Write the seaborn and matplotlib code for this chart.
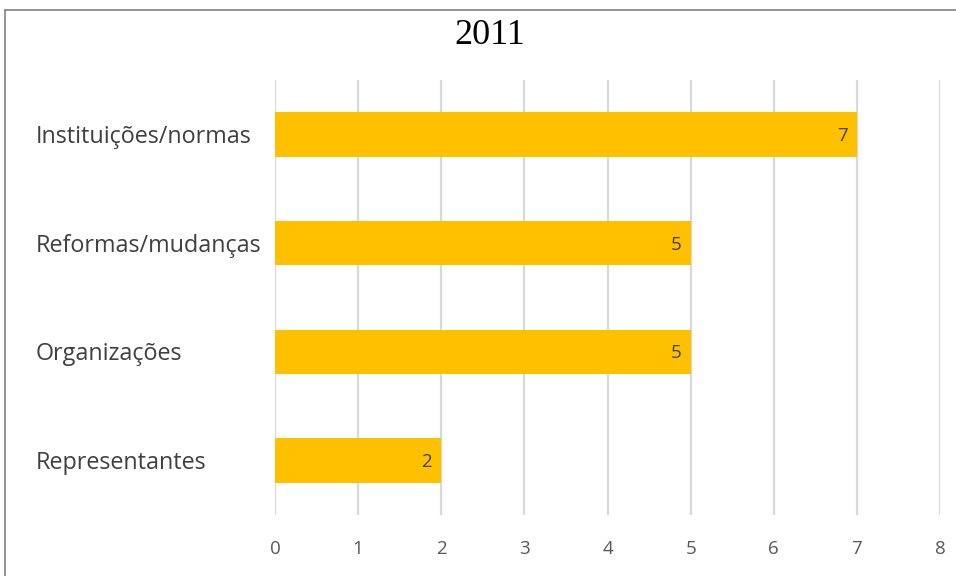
import matplotlib
matplotlib.use("Agg")
import matplotlib.pyplot as plt
import matplotlib.transforms as mtransforms
import seaborn as sns
import pandas as pd
from matplotlib.lines import Line2D

categories = ["Instituições/normas", "Reformas/mudanças", "Organizações", "Representantes"]
values = [7, 5, 5, 2]
xticks = [0, 1, 2, 3, 4, 5, 6, 7, 8]
title = "2011"

df = pd.DataFrame({"cat": categories, "val": values})

sns.set_style("white")
plt.rcParams["font.family"] = ["Open Sans", "DejaVu Sans"]

fig = plt.figure(figsize=(9.56, 5.76), dpi=100)
ax = fig.add_axes([0.2877, 0.1059, 0.9833 - 0.2877, 0.8611 - 0.1059])

sns.barplot(data=df, x="val", y="cat", color="#FFC000", saturation=1,
            width=0.41, ax=ax, zorder=3, edgecolor="none")

ax.set_xlim(0, 8)
ax.set_ylim(3.5, -0.5)
ax.set_xticks(xticks)
ax.set_xticklabels([str(t) for t in xticks], color="#595959", fontsize=13.5)
ax.tick_params(axis="x", length=0, pad=18)
ax.tick_params(axis="y", length=0, pad=0)
ax.set_yticks(range(len(categories)))
ax.set_yticklabels([])

lab_tr = mtransforms.blended_transform_factory(fig.transFigure, ax.transData)
lab_off = mtransforms.offset_copy(lab_tr, fig=fig, x=0, y=-2.5, units="dots")
for i, c in enumerate(categories):
    ax.text(36 / 956, i, c, transform=lab_off,
            ha="left", va="center", fontsize=16.8, color="#404040")

ax.grid(axis="x", color="#D9D9D9", linewidth=1.6, zorder=0)
ax.grid(axis="y", visible=False)
ax.set_axisbelow(True)
for s in ax.spines.values():
    s.set_visible(False)
ax.set_xlabel("")
ax.set_ylabel("")

val_off = mtransforms.offset_copy(ax.transData, fig=fig, x=0, y=-1.5, units="dots")
for i, v in enumerate(values):
    ax.text(v - 0.11, i, str(v), transform=val_off, ha="right", va="center",
            fontsize=13.5, color="#404040", zorder=5)

fig.text(490 / 956, 1 - 35 / 576, title, ha="center", va="center",
         fontsize=26, family="Liberation Serif", color="black")

# outer frame
fig.add_artist(Line2D([5 / 956, 1.0], [1 - 10 / 576, 1 - 10 / 576], transform=fig.transFigure,
                      color="#808080", linewidth=1.2))
fig.add_artist(Line2D([5 / 956, 5 / 956], [0, 1 - 10 / 576], transform=fig.transFigure,
                      color="#808080", linewidth=1.2))

fig.savefig("out.png", dpi=100)
